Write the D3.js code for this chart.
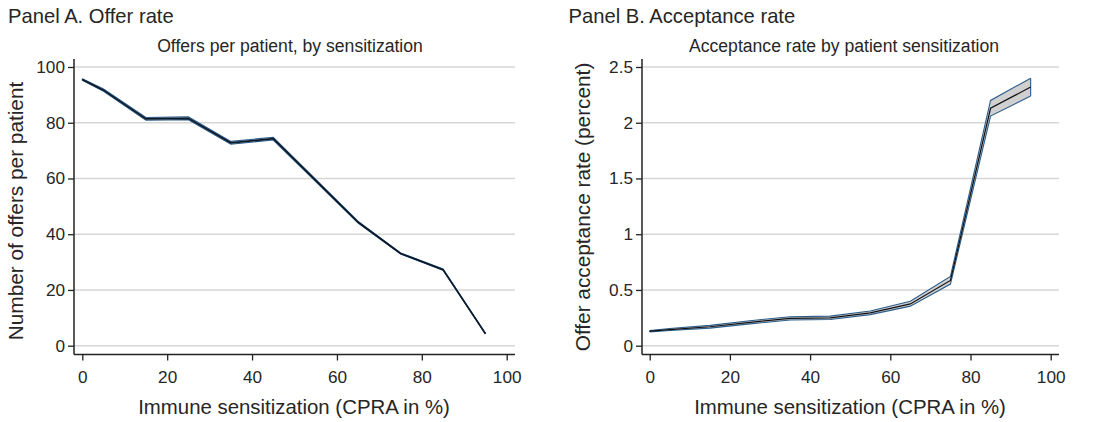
<!DOCTYPE html>
<html><head><meta charset="utf-8">
<script src="https://cdn.jsdelivr.net/npm/d3@7"></script>
<style>
body{margin:0;background:#fff;}
svg{display:block;font-family:"Liberation Sans",Arial,Helvetica,sans-serif;}
</style></head>
<body><svg id="c" width="1096" height="422"></svg>
<script>
const cpra = [0, 5, 15, 25, 35, 45, 55, 65, 75, 85, 95];
const offers = [95.5, 91.7, 81.4, 81.6, 72.8, 74.3, 59.3, 44.3, 33.1, 27.3, 4.3];
const offersLo = [95.2, 91.3, 80.9, 81.1, 72.3, 73.8, 58.9, 44.0, 32.9, 27.1, 4.2];
const offersHi = [95.8, 92.1, 81.9, 82.1, 73.3, 74.8, 59.7, 44.6, 33.3, 27.5, 4.4];
const accept = [0.13, 0.145, 0.17, 0.21, 0.245, 0.25, 0.295, 0.375, 0.585, 2.13, 2.32];
const acceptLo = [0.124, 0.136, 0.158, 0.196, 0.23, 0.235, 0.279, 0.355, 0.553, 2.06, 2.24];
const acceptHi = [0.136, 0.154, 0.182, 0.224, 0.26, 0.265, 0.311, 0.398, 0.622, 2.20, 2.40];
const xTicks = [0, 20, 40, 60, 80, 100];
const yTicksA = [0, 20, 40, 60, 80, 100];
const yTicksB = [0, 0.5, 1, 1.5, 2, 2.5];

const svg = d3.select("#c");
const textCol = "#262626";

function panel(cfg){
  const g = svg.append("g");
  const x = d3.scaleLinear().domain([0,100]).range([cfg.x0, cfg.x100]);
  const y = d3.scaleLinear().domain(cfg.ydom).range([345.7, 67]);
  // panel label
  g.append("text").attr("x", cfg.labelX).attr("y", 23).attr("font-size", 20.2).attr("fill", textCol).text(cfg.label);
  g.append("text").attr("x", cfg.subX).attr("y", 52).attr("text-anchor","middle").attr("font-size", 17.6).attr("fill", textCol).text(cfg.sub);
  // gridlines
  g.selectAll(".grid").data(cfg.yticks).enter().append("line")
    .attr("x1", cfg.axisX).attr("x2", cfg.right)
    .attr("y1", d=>y(d)).attr("y2", d=>y(d))
    .attr("stroke", "#d6d6d6").attr("stroke-width", 1.4);
  // y axis
  const ya = g.append("g").attr("transform", `translate(${cfg.axisX},0)`)
    .call(d3.axisLeft(y).tickValues(cfg.yticks).tickSize(6).tickPadding(3).tickFormat(d=>String(d)));
  ya.select(".domain").attr("d", `M0,59V354.5`).attr("stroke","#222").attr("stroke-width",1.5);
  ya.selectAll(".tick line").attr("stroke","#222").attr("stroke-width",1.3);
  ya.selectAll(".tick text").attr("font-size", 17.2).attr("fill", textCol).attr("font-family","Liberation Sans, Arial, sans-serif");
  // x axis
  const xa = g.append("g").attr("transform", `translate(0,354.5)`)
    .call(d3.axisBottom(x).tickValues(xTicks).tickSize(6).tickPadding(10).tickFormat(d=>String(d)));
  xa.select(".domain").attr("d", `M${cfg.axisX},0H${cfg.right}`).attr("stroke","#222").attr("stroke-width",1.5);
  xa.selectAll(".tick line").attr("stroke","#222").attr("stroke-width",1.3);
  xa.selectAll(".tick text").attr("font-size", 17.2).attr("fill", textCol).attr("font-family","Liberation Sans, Arial, sans-serif");
  // axis titles
  g.append("text").attr("x", cfg.xtitleX).attr("y", 414).attr("text-anchor","middle")
    .attr("font-size", 20.4).attr("fill", textCol).text("Immune sensitization (CPRA in %)");
  g.append("text").attr("transform", `translate(${cfg.ytitleX},${cfg.ytitleY}) rotate(-90)`).attr("text-anchor","middle")
    .attr("font-size", 20.8).attr("fill", textCol).text(cfg.ytitle);
  // band
  const idx = d3.range(cpra.length);
  const area = d3.area().x(i=>x(cpra[i])).y0(i=>y(cfg.lo[i])).y1(i=>y(cfg.hi[i]));
  g.append("path").attr("d", area(idx)).attr("fill", "#d0d0d0").attr("stroke","none");
  const lineLo = d3.line().x(i=>x(cpra[i])).y(i=>y(cfg.lo[i]));
  const lineHi = d3.line().x(i=>x(cpra[i])).y(i=>y(cfg.hi[i]));
  g.append("path").attr("d", lineLo(idx)).attr("fill","none").attr("stroke","#2a5d8c").attr("stroke-width",1.1);
  g.append("path").attr("d", lineHi(idx)).attr("fill","none").attr("stroke","#2a5d8c").attr("stroke-width",1.1);
  [0, cpra.length-1].forEach(i=>{
    g.append("line").attr("x1", x(cpra[i])).attr("x2", x(cpra[i])).attr("y1", y(cfg.lo[i])).attr("y2", y(cfg.hi[i]))
      .attr("stroke","#2a5d8c").attr("stroke-width",1.1);
  });
  const line = d3.line().x(i=>x(cpra[i])).y(i=>y(cfg.val[i]));
  g.append("path").attr("d", line(idx)).attr("fill","none").attr("stroke", cfg.lineCol).attr("stroke-width", cfg.lineW);
}

panel({label:"Panel A. Offer rate", labelX:8, sub:"Offers per patient, by sensitization", subX:290,
  x0:82.3, x100:506.7, axisX:74, right:515, ydom:[0,100], yticks:yTicksA,
  xtitleX:294, ytitle:"Number of offers per patient", ytitleX:23, ytitleY:211,
  val:offers, lo:offersLo, hi:offersHi, lineCol:"#0b1a2a", lineW:1.7});
panel({label:"Panel B. Acceptance rate", labelX:568.5, sub:"Acceptance rate by patient sensitization", subX:844,
  x0:649.7, x100:1050.7, axisX:642, right:1059, ydom:[0,2.5], yticks:yTicksB,
  xtitleX:850, ytitle:"Offer acceptance rate (percent)", ytitleX:589.5, ytitleY:207,
  val:accept, lo:acceptLo, hi:acceptHi, lineCol:"#111", lineW:1.2});
</script></body></html>
